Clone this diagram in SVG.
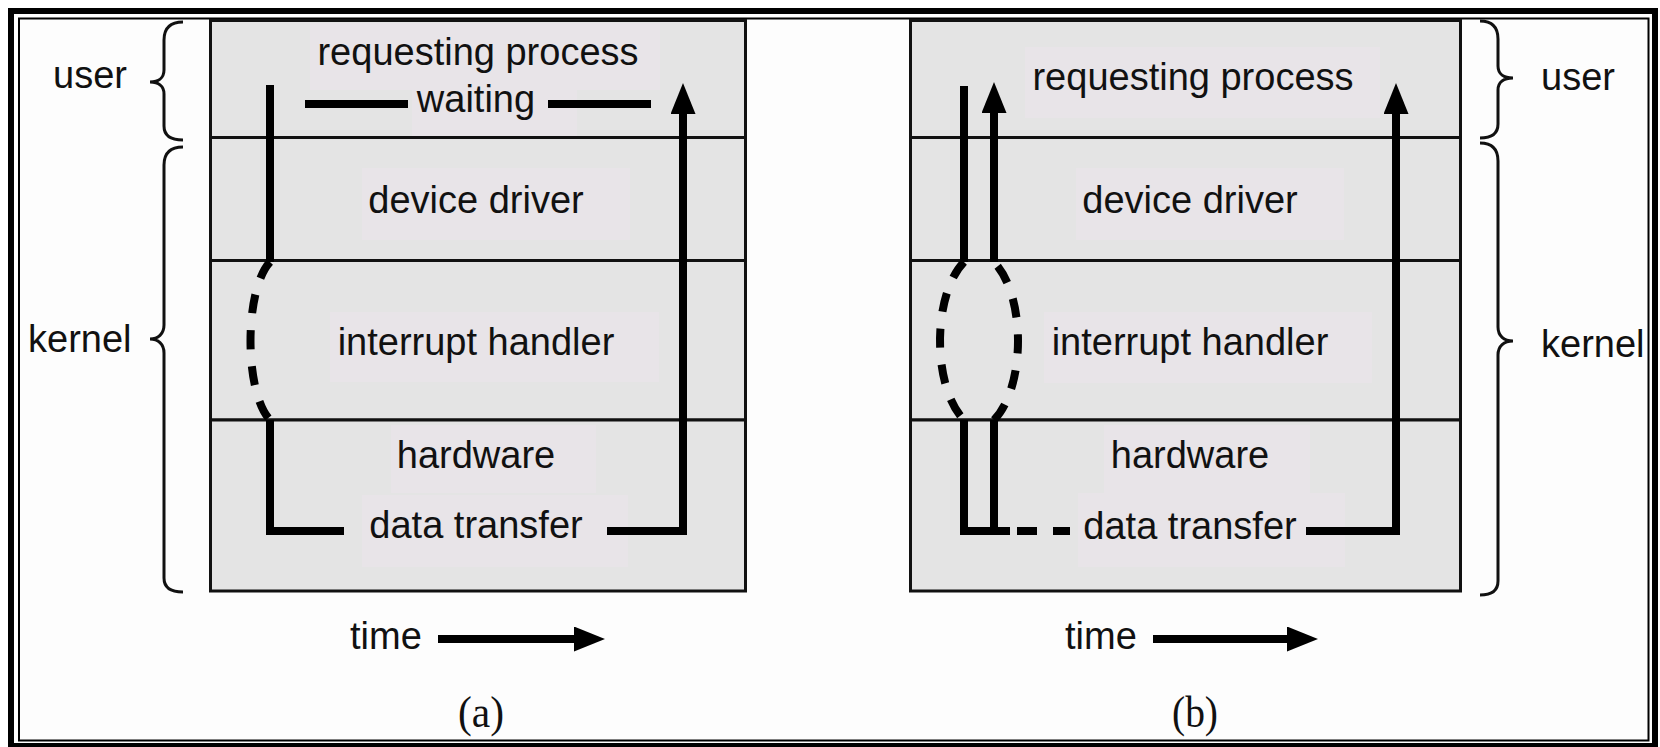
<svg xmlns="http://www.w3.org/2000/svg" width="1660" height="747" viewBox="0 0 1660 747">
<style>
.lbl{font-family:"Liberation Sans",Arial,sans-serif;font-size:38px;fill:#111;text-anchor:middle}
.side{font-family:"Liberation Sans",Arial,sans-serif;font-size:38px;fill:#111}
.cap{font-family:"Liberation Serif","Times New Roman",serif;font-size:44px;fill:#111;text-anchor:middle}
.cell{fill:#e4e4e4;stroke:#111;stroke-width:3}
.patch{fill:#e8e4e8}
.brace{fill:none;stroke:#111;stroke-width:3}
.wire{fill:none;stroke:#000;stroke-width:8}
.dash{fill:none;stroke:#000;stroke-width:8;stroke-dasharray:19 17}
</style>
<defs>
<marker id="head" markerUnits="userSpaceOnUse" markerWidth="34" markerHeight="26" refX="2" refY="12.5" orient="auto" viewBox="0 0 34 26">
<path d="M0,0 L31,12.5 L0,25 z" fill="#000"/>
</marker>
</defs>
<rect x="0" y="0" width="1660" height="747" fill="#fff"/>
<rect x="11" y="11" width="1644" height="735" fill="#fdfdfd" stroke="#000" stroke-width="6"/>
<rect x="19" y="18.5" width="1629.5" height="722" fill="none" stroke="#000" stroke-width="2"/>

<g id="panel-a">
<g id="a-user"><rect class="cell" x="210.5" y="20.5" width="535" height="117"/>
<rect class="patch" x="310" y="23" width="350" height="67"/><rect class="patch" x="412" y="90" width="165" height="46"/>
<text class="lbl" x="478" y="65">requesting process</text><text class="lbl" x="476" y="112">waiting</text></g>
<g id="a-driver"><rect class="cell" x="210.5" y="137.5" width="535" height="123"/>
<rect class="patch" x="362" y="168" width="268" height="72"/>
<text class="lbl" x="476" y="213">device driver</text></g>
<g id="a-interrupt"><rect class="cell" x="210.5" y="260.5" width="535" height="159.5"/>
<rect class="patch" x="330" y="312" width="329" height="70"/>
<text class="lbl" x="476" y="355">interrupt handler</text></g>
<g id="a-hardware"><rect class="cell" x="210.5" y="420" width="535" height="171"/>
<rect class="patch" x="391" y="425" width="205" height="68"/><rect class="patch" x="362" y="495" width="266" height="72"/>
<text class="lbl" x="476" y="468">hardware</text><text class="lbl" x="476" y="538">data transfer</text></g>
</g>

<g id="panel-b">
<g id="b-user"><rect class="cell" x="910.5" y="20.5" width="550" height="117"/>
<rect class="patch" x="1025" y="47" width="355" height="71"/>
<text class="lbl" x="1193" y="90">requesting process</text></g>
<g id="b-driver"><rect class="cell" x="910.5" y="137.5" width="550" height="123"/>
<rect class="patch" x="1076" y="168" width="268" height="72"/>
<text class="lbl" x="1190" y="213">device driver</text></g>
<g id="b-interrupt"><rect class="cell" x="910.5" y="260.5" width="550" height="159.5"/>
<rect class="patch" x="1044" y="312" width="328" height="71"/>
<text class="lbl" x="1190" y="355">interrupt handler</text></g>
<g id="b-hardware"><rect class="cell" x="910.5" y="420" width="550" height="171"/>
<rect class="patch" x="1104" y="425" width="206" height="68"/><rect class="patch" x="1078" y="493" width="267" height="74"/>
<text class="lbl" x="1190" y="468">hardware</text><text class="lbl" x="1190" y="539">data transfer</text></g>
</g>

<g id="labels">
<text class="side" x="53" y="88">user</text>
<text class="side" x="28" y="352">kernel</text>
<text class="side" x="1541" y="90">user</text>
<text class="side" x="1541" y="357">kernel</text>
<path class="brace" d="M183,22 C170,22 164,28 164,40 L164,70 C164,78 158,82 150,82 C158,82 164,86 164,94 L164,126 C164,135 170,140 183,140"/>
<path class="brace" d="M183,147 C170,147 164,153 164,165 L164,325 C164,334 158,339 150,339 C158,339 164,344 164,353 L164,578 C164,587 170,592 183,592"/>
<path class="brace" d="M1480,21 C1492,21 1498,27 1498,39 L1498,66 C1498,74 1504,78 1513,78 C1504,78 1498,82 1498,90 L1498,124 C1498,133 1492,138 1480,138"/>
<path class="brace" d="M1480,143 C1492,143 1498,149 1498,161 L1498,327 C1498,336 1504,341 1513,341 C1504,341 1498,346 1498,355 L1498,581 C1498,590 1492,595 1480,595"/>
<text class="side" x="350" y="649">time</text>
<text class="side" x="1065" y="649">time</text>
<text class="cap" x="481" y="727" textLength="46" lengthAdjust="spacingAndGlyphs">(a)</text>
<text class="cap" x="1195" y="727" textLength="46" lengthAdjust="spacingAndGlyphs">(b)</text>
</g>

<g id="connectors">
<!-- (a) -->
<path class="wire" d="M270,85 L270,262"/>
<path class="dash" d="M270,262 C244,290 244,392 270,420"/>
<path class="wire" d="M270,420 L270,531 L344,531"/>
<path class="wire" d="M305,104 L408,104 M548,104 L651,104"/>
<path class="wire" d="M607,531 L683,531 L683,112" marker-end="url(#head)"/>
<path class="wire" d="M438,639 L576,639" marker-end="url(#head)"/>
<!-- (b) -->
<path class="wire" d="M964,86 L964,262"/>
<path class="dash" d="M964,262 C932,295 932,387 964,420"/>
<path class="wire" d="M964,420 L964,531 L1010,531"/>
<path class="wire" d="M994,531 L994,420"/>
<path class="dash" d="M994,420 C1026,387 1026,295 994,262"/>
<path class="wire" d="M994,262 L994,111" marker-end="url(#head)"/>
<path class="wire" d="M1017,531 L1037,531 M1053,531 L1070,531"/>
<path class="wire" d="M1306,531 L1396,531 L1396,112" marker-end="url(#head)"/>
<path class="wire" d="M1153,639 L1289,639" marker-end="url(#head)"/>
</g>
</svg>
